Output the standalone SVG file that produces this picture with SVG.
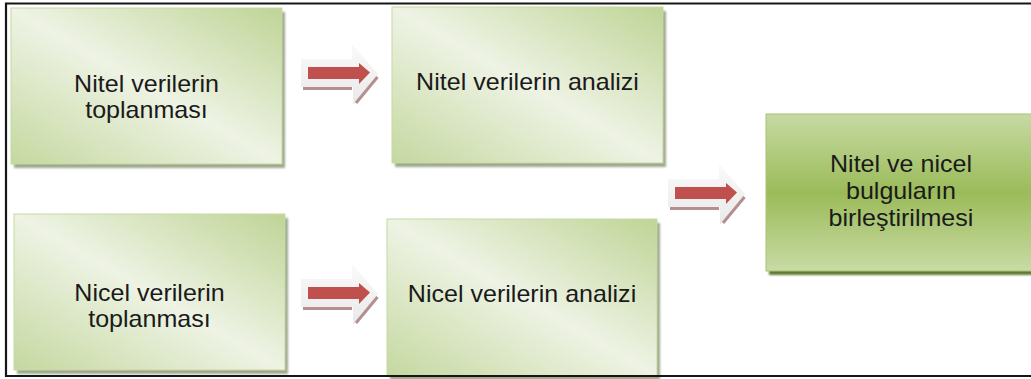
<svg xmlns="http://www.w3.org/2000/svg" xmlns:xlink="http://www.w3.org/1999/xlink" width="1031" height="379" viewBox="0 0 1031 379">
  <style>
    .light { fill: url(#lightFill); stroke: #c6d9a3; stroke-width: 1; }
    .dark { fill: url(#darkFill); stroke: #a9c372; stroke-width: 1; }
    .sh { fill: #9fa78f; filter: url(#soft); }
    .shDark { fill: #5f7a31; filter: url(#soft); }
    .lbl { font-family: "Liberation Sans", Arial, sans-serif; font-size: 23px; fill: #1a1a1a; text-anchor: middle; }
    .frame { fill: none; stroke: #161616; stroke-width: 2.2; }
  </style>
  <defs>
    <linearGradient id="lightFill" x1="1" y1="0" x2="0" y2="1">
      <stop offset="0" stop-color="#bfd496"/>
      <stop offset="0.5" stop-color="#eef3e4"/>
      <stop offset="1" stop-color="#c5d8a0"/>
    </linearGradient>
    <linearGradient id="darkFill" x1="0" y1="0" x2="0" y2="1">
      <stop offset="0" stop-color="#c6daa3"/>
      <stop offset="0.5" stop-color="#9bbb59"/>
      <stop offset="1" stop-color="#c8dba5"/>
    </linearGradient>
    <linearGradient id="bevel" x1="0" y1="0" x2="0" y2="1">
      <stop offset="0" stop-color="#fafafa"/>
      <stop offset="1" stop-color="#e9e9e9"/>
    </linearGradient>
    <filter id="soft" x="-5%" y="-5%" width="110%" height="110%">
      <feGaussianBlur stdDeviation="0.8"/>
    </filter>
    <!-- beveled block arrow -->
    <g id="arrow">
      <polygon points="301,59 352,59 352,44 378,74 353,105 353,87 301,87" fill="url(#bevel)"/>
      <line x1="303" y1="88.5" x2="352" y2="88.5" stroke="#b58f8f" stroke-width="3"/>
      <line x1="377.5" y1="77" x2="356" y2="103" stroke="#b58f8f" stroke-width="3"/>
      <polygon points="308,67 359,67 359,63 370,72.5 359,84 359,79 308,79" fill="#c0504d"/>
    </g>
  </defs>

  <rect x="0" y="0" width="1031" height="379" fill="#ffffff"/>

  <g id="n1">
    <rect class="sh" x="14" y="12" width="271" height="156"/>
    <rect class="light" x="11" y="8" width="271" height="156"/>
    <text class="lbl" transform="translate(146.5,0) scale(1.09,1)"><tspan x="0" y="92">Nitel verilerin</tspan><tspan x="0" y="118">toplanması</tspan></text>
  </g>

  <g id="n2">
    <rect class="sh" x="395" y="11" width="271" height="156"/>
    <rect class="light" x="392" y="7" width="271" height="156"/>
    <text class="lbl" transform="translate(527.5,0) scale(1.09,1)"><tspan x="0" y="90">Nitel verilerin analizi</tspan></text>
  </g>

  <g id="n3">
    <rect class="sh" x="17" y="218" width="271" height="156"/>
    <rect class="light" x="14" y="214" width="271" height="156"/>
    <text class="lbl" transform="translate(149.5,0) scale(1.09,1)"><tspan x="0" y="301">Nicel verilerin</tspan><tspan x="0" y="327">toplanması</tspan></text>
  </g>

  <g id="n4">
    <rect class="sh" x="390" y="223" width="270" height="157"/>
    <rect class="light" x="387" y="219" width="270" height="157"/>
    <text class="lbl" transform="translate(522,0) scale(1.09,1)"><tspan x="0" y="302">Nicel verilerin analizi</tspan></text>
  </g>

  <g id="n5">
    <rect class="shDark" x="769" y="118" width="270" height="157"/>
    <rect class="dark" x="766" y="114" width="270" height="157"/>
    <text class="lbl" transform="translate(901,0) scale(1.09,1)"><tspan x="0" y="172">Nitel ve nicel</tspan><tspan x="0" y="199">bulguların</tspan><tspan x="0" y="226">birleştirilmesi</tspan></text>
  </g>

  <g id="connectors">
    <use xlink:href="#arrow"/>
    <use xlink:href="#arrow" transform="translate(0,220)"/>
    <use xlink:href="#arrow" transform="translate(367,120)"/>
  </g>

  <!-- outer frame: top, left and bottom edges -->
  <path class="frame" d="M1031,3.5 H6 V376 H1031"/>
</svg>
